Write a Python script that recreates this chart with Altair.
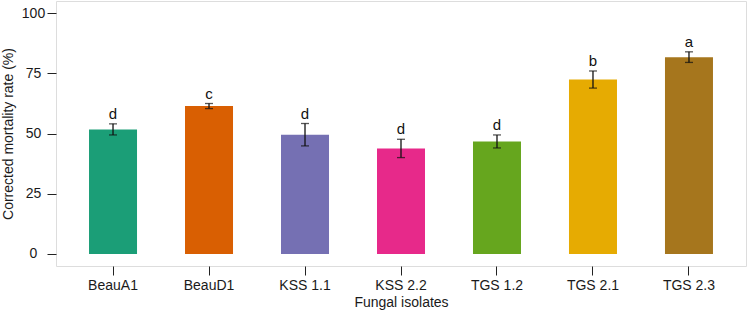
import altair as alt
import pandas as pd

isolates = ["BeauA1", "BeauD1", "KSS 1.1", "KSS 2.2", "TGS 1.2", "TGS 2.1", "TGS 2.3"]
means = [51.7, 61.4, 49.5, 43.8, 46.7, 72.4, 81.7]
ses = [2.3, 1.05, 4.65, 3.8, 2.7, 3.55, 2.2]
letters = ["d", "c", "d", "d", "d", "b", "a"]
colors = ["#1B9E77", "#D95F02", "#7570B3", "#E7298A", "#66A61E", "#E6AB02", "#A6761D"]

df = pd.DataFrame({
    "isolate": isolates,
    "mean": means,
    "lo": [m - s for m, s in zip(means, ses)],
    "hi": [m + s for m, s in zip(means, ses)],
    "letter": letters,
})

FONT = "Liberation Sans, Arial, sans-serif"

xscale = alt.Scale(domain=isolates, paddingInner=0.5, paddingOuter=0.344)
yscale = alt.Scale(domain=[-5, 105], nice=False, zero=False)

x_enc = alt.X(
    "isolate:N", scale=xscale, sort=isolates,
    axis=alt.Axis(
        title="Fungal isolates", domain=False, grid=False, labelAngle=0,
        tickSize=9, tickColor="#222222", tickWidth=1,
        labelBaseline="alphabetic", labelPadding=14, labelFontSize=14,
        labelColor="#1a1a1a", labelFont=FONT,
        titleFont=FONT, titleFontSize=14, titleFontWeight="normal",
        titleColor="#1a1a1a", titleBaseline="alphabetic",
        titleX=345, titleY=40, titleAnchor="middle",
    ),
)

y_axis = alt.Axis(
    title="Corrected mortality rate (%)", values=[0, 25, 50, 75, 100],
    domain=False, grid=False, tickSize=9, tickColor="#222222", tickWidth=1,
    labelAlign="center", labelBaseline="middle", labelPadding=14,
    labelFontSize=14, labelColor="#1a1a1a", labelFont=FONT,
    titleFont=FONT, titleFontSize=14, titleFontWeight="normal",
    titleColor="#1a1a1a", titleAngle=-90, titleAlign="center",
    titleBaseline="middle", titleX=-48, titleY=132.5,
)

base = alt.Chart(df)

bars = base.mark_bar(size=48).encode(
    x=x_enc,
    y=alt.Y("mean:Q", scale=yscale, axis=y_axis),
    y2=alt.Y2(datum=0),
    color=alt.Color("isolate:N", scale=alt.Scale(domain=isolates, range=colors), legend=None),
)

rules = base.mark_rule(color="#111111", strokeWidth=1.3).encode(
    x=alt.X("isolate:N", scale=xscale, sort=isolates),
    y=alt.Y("lo:Q", scale=yscale),
    y2="hi:Q",
)

caps_hi = base.mark_tick(color="#111111", size=8, thickness=1.3).encode(
    x=alt.X("isolate:N", scale=xscale, sort=isolates),
    y=alt.Y("hi:Q", scale=yscale),
)
caps_lo = base.mark_tick(color="#111111", size=8, thickness=1.3).encode(
    x=alt.X("isolate:N", scale=xscale, sort=isolates),
    y=alt.Y("lo:Q", scale=yscale),
)

labels = base.mark_text(
    baseline="alphabetic", dy=-5, fontSize=15, font=FONT, color="#111111"
).encode(
    x=alt.X("isolate:N", scale=xscale, sort=isolates),
    y=alt.Y("hi:Q", scale=yscale),
    text="letter:N",
)

chart = alt.layer(bars, rules, caps_hi, caps_lo, labels).properties(
    width=690, height=265,
    padding={"left": 56, "top": 1, "right": 3, "bottom": 46},
    autosize=alt.AutoSizeParams(type="none"),
).configure_view(stroke="#8a8a8a", strokeWidth=1.2).configure(background="white")

chart.save("out.html", embed_options={"renderer": "svg", "actions": False})
